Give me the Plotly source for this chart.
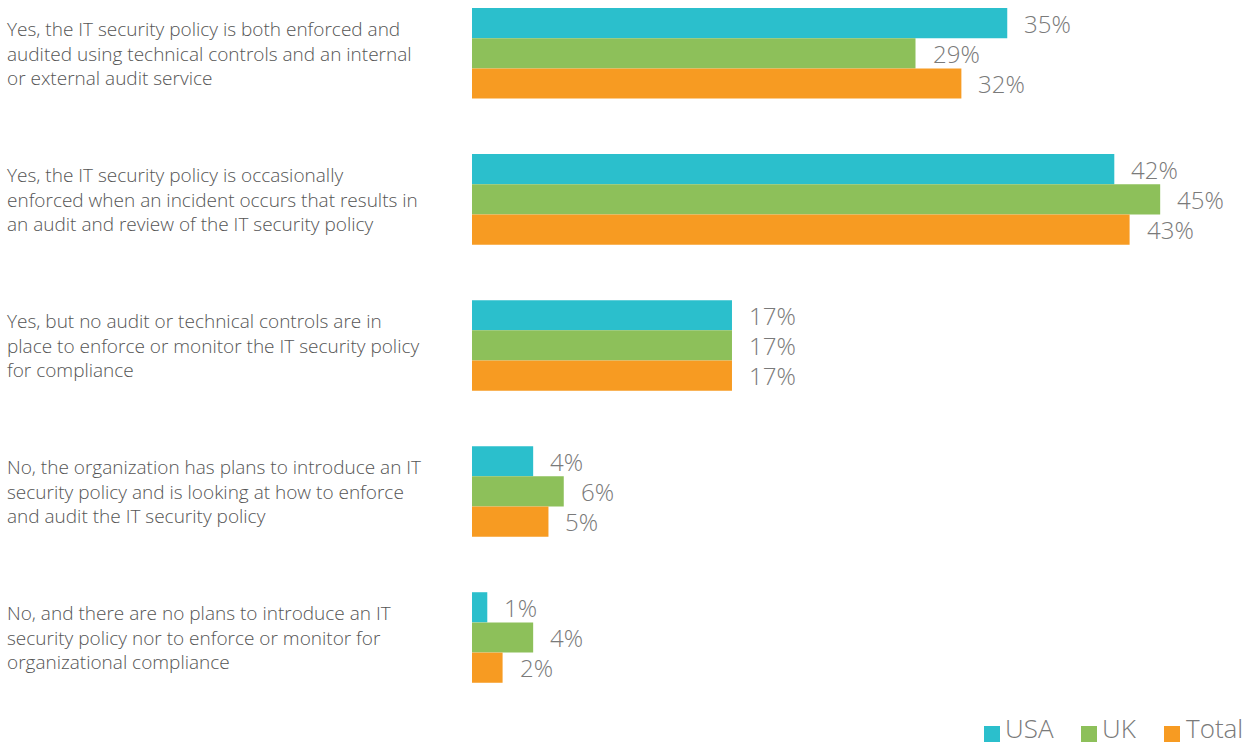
import plotly.graph_objects as go

# Survey answers (top to bottom)
answers = [
    "Yes, the IT security policy is both enforced and<br>audited using technical controls and an internal<br>or external audit service",
    "Yes, the IT security policy is occasionally<br>enforced when an incident occurs that results in<br>an audit and review of the IT security policy",
    "Yes, but no audit or technical controls are in<br>place to enforce or monitor the IT security policy<br>for compliance",
    "No, the organization has plans to introduce an IT<br>security policy and is looking at how to enforce<br>and audit the IT security policy",
    "No, and there are no plans to introduce an IT<br>security policy nor to enforce or monitor for<br>organizational compliance",
]

series_names = ["USA", "UK", "Total"]
usa = [35, 42, 17, 4, 1]
uk = [29, 45, 17, 6, 4]
total = [32, 43, 17, 5, 2]
series_values = [usa, uk, total]
colors = ["#2BBFCC", "#8DC05A", "#F79B22"]

FONT = "Open Sans"
W, H = 1255, 746
ML, MB = 472, 46
PW, PH = W - ML, H - MB
positions = list(range(len(answers)))
BARGAP = 0.38


def px_x(p):
    """pixel column -> paper x"""
    return (p - ML) / PW


def px_y(p):
    """pixel row (from top) -> paper y"""
    return (PH - p) / PH


fig = go.Figure()
for name, vals, col in zip(series_names, series_values, colors):
    fig.add_trace(go.Bar(
        name=name, y=positions, x=vals, orientation="h",
        marker=dict(color=col, line=dict(width=0)),
        hoverinfo="skip", showlegend=False,
    ))

# value labels to the right of each bar
n = len(series_names)
group_frac = 1 - BARGAP
bar_w = group_frac / n
for k, vals in enumerate(series_values):
    off = -group_frac / 2 + bar_w * (k + 0.5)
    for i, v in enumerate(vals):
        fig.add_annotation(
            x=v, y=positions[i] + off, xref="x", yref="y",
            text=f"{v}%", showarrow=False, xanchor="left", yanchor="middle",
            xshift=16, borderpad=0,
            font=dict(family=FONT, size=24, color="#7a7a7a", weight=300),
        )

# category labels on the left
for i, txt in enumerate(answers):
    fig.add_annotation(
        x=px_x(5), y=positions[i], xref="paper", yref="y",
        text=txt, showarrow=False, xanchor="left", yanchor="middle",
        align="left",
        font=dict(family=FONT, size=19, color="#555555", weight=300),
    )

# legend: coloured squares followed by series names, bottom right
legend_sq = [984, 1081, 1164]
legend_txt = [1004, 1101, 1185]
for name, col, sx, tx in zip(series_names, colors, legend_sq, legend_txt):
    fig.add_shape(
        type="rect", xref="paper", yref="paper",
        x0=px_x(sx), x1=px_x(sx + 16), y0=px_y(726), y1=px_y(742),
        fillcolor=col, line=dict(width=0),
    )
    fig.add_annotation(
        x=px_x(tx), y=px_y(728), xref="paper", yref="paper",
        text=name, showarrow=False, xanchor="left", yanchor="middle",
        borderpad=0,
        font=dict(family=FONT, size=26, color="#7a7a7a", weight=300),
    )

fig.update_layout(
    width=W, height=H,
    margin=dict(l=ML, r=0, t=0, b=MB),
    paper_bgcolor="white", plot_bgcolor="white",
    barmode="group", bargap=BARGAP, bargroupgap=0,
    showlegend=False,
    xaxis=dict(range=[0, 51.2], visible=False, fixedrange=True),
    yaxis=dict(range=[4.428, -0.365], visible=False, fixedrange=True),
    font=dict(family=FONT),
)

fig.write_html("out.html")
